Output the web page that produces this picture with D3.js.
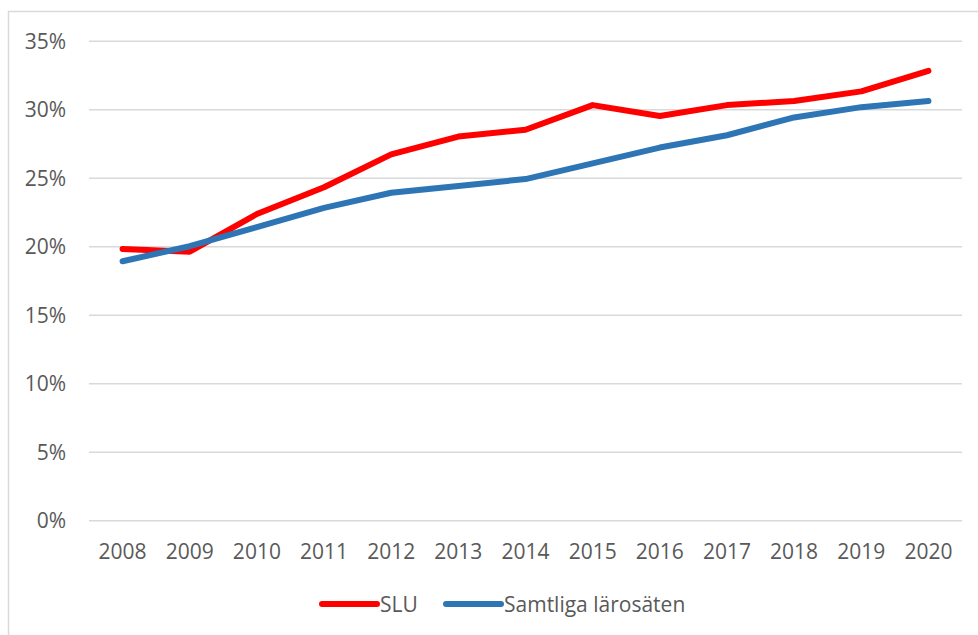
<!DOCTYPE html>
<html>
<head>
<meta charset="utf-8">
<script src="https://cdn.jsdelivr.net/npm/d3@7"></script>
<style>
  body { margin: 0; background: #fff; }
  svg text { font-family: "Open Sans", sans-serif; fill: #595959; }
</style>
</head>
<body>
<div id="chart"></div>
<script>
// data (percent)
const years = ["2008","2009","2010","2011","2012","2013","2014","2015","2016","2017","2018","2019","2020"];
const slu = [19.8, 19.6, 22.35, 24.3, 26.7, 28.0, 28.5, 30.3, 29.5, 30.3, 30.6, 31.3, 32.8];
const samtliga = [18.9, 20.0, 21.4, 22.8, 23.9, 24.4, 24.9, 26.05, 27.2, 28.1, 29.4, 30.15, 30.6];
const yTicks = [0, 5, 10, 15, 20, 25, 30, 35];
const seriesNames = ["SLU", "Samtliga lärosäten"];
const seriesColors = ["#FF0000", "#2E75B6"];

const width = 978, height = 635;
const margin = {top: 40.7, left: 89, right: 16, bottom: 114.8};

const svg = d3.select("#chart").append("svg")
	.attr("width", width)
	.attr("height", height);

// chart frame (runs off the right and bottom edge)
svg.append("rect")
	.attr("x", 8.5).attr("y", 11.5)
	.attr("width", 1000).attr("height", 700)
	.attr("fill", "none")
	.attr("stroke", "#D9D9D9")
	.attr("stroke-width", 1.5);

const x = d3.scaleBand()
	.domain(years)
	.range([margin.left, width - margin.right]);

const y = d3.scaleLinear()
	.domain([0, 35])
	.range([height - margin.bottom, margin.top]);

// gridlines
const yAxis = svg.append("g")
	.attr("transform", "translate(" + margin.left + ",0)")
	.call(d3.axisLeft(y)
		.tickValues(yTicks)
		.tickSize(-(width - margin.right - margin.left))
		.tickPadding(23)
		.tickFormat(d => d + "%"));
yAxis.select(".domain").remove();
yAxis.selectAll(".tick line").attr("stroke", "#D9D9D9").attr("stroke-width", 1.6);
yAxis.selectAll(".tick text")
	.attr("font-size", 21)
	.attr("dy", "0.36em")
	.style("fill", "#595959");

// category labels
const xAxis = svg.append("g")
	.attr("transform", "translate(0," + y(0) + ")")
	.call(d3.axisBottom(x).tickSize(0).tickPadding(24));
xAxis.select(".domain").remove();
xAxis.selectAll(".tick text")
	.attr("font-size", 21)
	.style("fill", "#595959");

const line = d3.line()
	.x((d, i) => x(years[i]) + x.bandwidth() / 2)
	.y(d => y(d));

[slu, samtliga].forEach(function(vals, k) {
	svg.append("path")
		.datum(vals)
		.attr("fill", "none")
		.attr("stroke", seriesColors[k])
		.attr("stroke-width", 6)
		.attr("stroke-linejoin", "round")
		.attr("stroke-linecap", "round")
		.attr("d", line);
});

// legend
const legendX = [322, 446];
const legend = svg.append("g").attr("class", "legend");
seriesNames.forEach(function(name, k) {
	legend.append("line")
		.attr("x1", legendX[k]).attr("x2", legendX[k] + 55)
		.attr("y1", 604).attr("y2", 604)
		.attr("stroke", seriesColors[k])
		.attr("stroke-width", 6)
		.attr("stroke-linecap", "round");
	legend.append("text")
		.attr("x", legendX[k] + 58)
		.attr("y", 604)
		.attr("dy", "0.36em")
		.attr("font-size", 21)
		.text(name);
});
</script>
</body>
</html>
